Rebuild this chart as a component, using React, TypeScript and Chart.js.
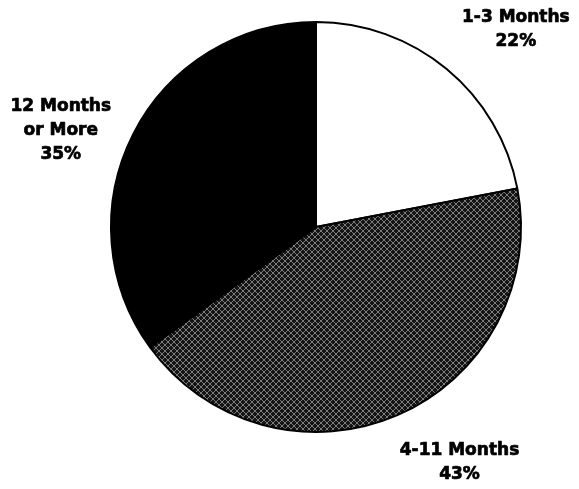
import React, { useEffect, useRef } from "react";
import { Chart, registerables } from "chart.js";

Chart.register(...registerables);

// Share of cases by duration
const categories = ["1-3 Months", "4-11 Months", "12 Months or More"];
const shares = [22, 43, 35];
// Label text, one entry per line, in the same order as the categories
const labelLines = [
  ["1-3 Months", "22%"],
  ["4-11 Months", "43%"],
  ["12 Months", "or More", "35%"],
];
// Label block centres, in pie radii from the pie centre
const labelOffsets = [
  [0.975, -0.97],
  [0.7, 1.14],
  [-1.245, -0.48],
];

function makeStipple(): CanvasPattern | string {
  const tile = document.createElement("canvas");
  tile.width = 6;
  tile.height = 6;
  const ctx = tile.getContext("2d");
  if (!ctx) return "#3a3a3a";
  ctx.fillStyle = "#141414";
  ctx.fillRect(0, 0, 6, 6);
  ctx.fillStyle = "#7c7c7c";
  // crosshatch of single light pixels
  for (let i = 0; i < 6; i++) {
    ctx.fillRect(i, i, 1, 1);
    ctx.fillRect(5 - i, i, 1, 1);
  }
  const pattern = ctx.createPattern(tile, "repeat");
  return pattern || "#3a3a3a";
}

const labelPlugin = {
  id: "sliceLabels",
  afterDraw(chart: any) {
    const arc = chart.getDatasetMeta(0).data[0];
    if (!arc) return;
    const { x, y, outerRadius } = arc.getProps(["x", "y", "outerRadius"], true);
    const ctx = chart.ctx;
    const lineGap = 24;
    ctx.save();
    ctx.fillStyle = "#000";
    ctx.strokeStyle = "#000";
    ctx.lineWidth = 0.7;
    ctx.lineJoin = "round";
    ctx.font = "bold 17px 'DejaVu Sans'";
    ctx.textAlign = "center";
    ctx.textBaseline = "alphabetic";
    labelLines.forEach((lines, i) => {
      const cx = x + labelOffsets[i][0] * outerRadius;
      const cy = y + labelOffsets[i][1] * outerRadius;
      const top = cy - ((lines.length - 1) * lineGap) / 2;
      lines.forEach((t, j) => {
        const by = top + j * lineGap + 6;
        ctx.fillText(t, cx, by);
        ctx.strokeText(t, cx, by);
      });
    });
    ctx.restore();
  },
};

export default function App() {
  const canvasRef = useRef<HTMLCanvasElement | null>(null);

  useEffect(() => {
    if (!canvasRef.current) return;
    const chart = new Chart(canvasRef.current, {
      type: "pie",
      data: {
        labels: categories,
        datasets: [
          {
            data: shares,
            backgroundColor: ["#ffffff", makeStipple(), "#000000"],
            borderColor: "#000000",
            borderWidth: 2,
          },
        ],
      },
      options: {
        animation: false,
        responsive: true,
        maintainAspectRatio: false,
        layout: { padding: { left: 110, right: 57, top: 21, bottom: 56 } },
        plugins: {
          legend: { display: false },
          tooltip: { enabled: false },
        },
      },
      plugins: [labelPlugin],
    });
    return () => chart.destroy();
  }, []);

  return (
    <div
      style={{
        position: "absolute",
        left: 0,
        top: 0,
        width: 579,
        height: 489,
        background: "#fff",
      }}
    >
      <canvas ref={canvasRef} />
    </div>
  );
}
